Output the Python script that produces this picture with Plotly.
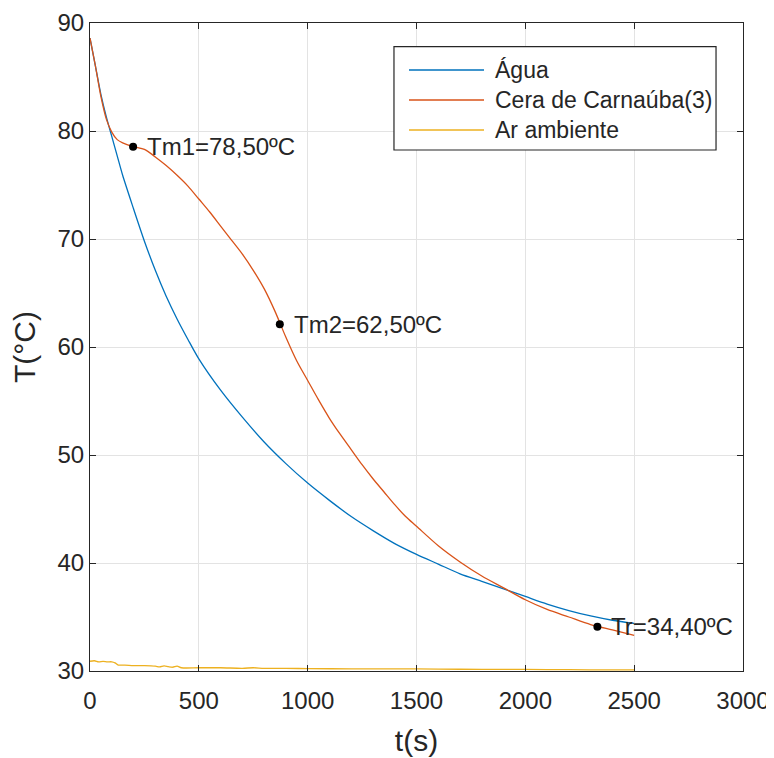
import plotly.graph_objects as go

# ---- data ----
agua_t = [0, 25, 50, 75, 100, 125, 150, 200, 250, 300, 350, 400, 450, 500, 600, 700, 800, 900,
          1000, 1100, 1200, 1300, 1400, 1500, 1600, 1700, 1800, 1900, 2000, 2100, 2200, 2300, 2400, 2500]
agua_T = [88.6, 86.0, 83.4, 81.3, 79.5, 77.7, 75.9, 72.8, 69.8, 67.1, 64.7, 62.6, 60.7, 58.9, 56.0, 53.5, 51.2, 49.2,
          47.4, 45.8, 44.3, 43.0, 41.8, 40.8, 39.9, 39.0, 38.3, 37.6, 36.9, 36.2, 35.6, 35.1, 34.7, 34.4]

cera_t = [0, 25, 50, 75, 100, 125, 150, 200, 250, 300, 350, 400, 450, 500, 550, 600, 650, 700, 750, 800, 850,
          900, 950, 1000, 1050, 1100, 1150, 1200, 1250, 1300, 1350, 1400, 1450, 1500, 1600, 1700, 1800, 1900,
          2000, 2100, 2200, 2300, 2400, 2500]
cera_T = [88.6, 86.0, 83.2, 81.1, 79.9, 79.2, 78.9, 78.55, 78.3, 77.6, 76.8, 75.9, 74.9, 73.7, 72.5, 71.2, 69.9,
          68.6, 67.1, 65.4, 63.3, 60.9, 58.7, 56.9, 55.1, 53.4, 51.9, 50.5, 49.1, 47.8, 46.6, 45.4, 44.3, 43.4,
          41.6, 40.1, 38.8, 37.7, 36.6, 35.7, 35.0, 34.3, 33.8, 33.3]

ar_t = [0, 20, 40, 60, 80, 100, 115, 130, 160, 200, 250, 300, 320, 340, 360, 380, 400, 420, 500, 600, 700,
        750, 800, 900, 1000, 1200, 1400, 1600, 1800, 2000, 2200, 2400, 2500]
ar_T = [30.9, 30.95, 30.85, 30.9, 30.85, 30.85, 30.75, 30.55, 30.55, 30.5, 30.5, 30.45, 30.38, 30.48, 30.4,
        30.35, 30.45, 30.3, 30.3, 30.3, 30.25, 30.3, 30.25, 30.25, 30.22, 30.2, 30.2, 30.18, 30.15, 30.15,
        30.12, 30.1, 30.1]

mark_t = [198, 872, 2331]
mark_T = [78.55, 62.1, 34.1]
mark_labels = ["Tm1=78,50ºC", "Tm2=62,50ºC", "Tr=34,40ºC"]

series_names = ["Água", "Cera de Carnaúba(3)", "Ar ambiente"]
series_colors = ["#0072BD", "#D95319", "#EDB120"]

x_ticks = [0, 500, 1000, 1500, 2000, 2500, 3000]
y_ticks = [30, 40, 50, 60, 70, 80, 90]

FONT = "Liberation Sans, Arial, sans-serif"
TXT = "#262626"

fig = go.Figure()
for (tt, TT), name, col in zip([(agua_t, agua_T), (cera_t, cera_T), (ar_t, ar_T)], series_names, series_colors):
    fig.add_trace(go.Scatter(x=tt, y=TT, mode="lines", name=name, showlegend=False,
                             line=dict(color=col, width=1.3, shape="spline", smoothing=0.8)))

fig.add_trace(go.Scatter(x=mark_t, y=mark_T, mode="markers", showlegend=False,
                         marker=dict(color="black", size=8)))
for tx, ty, lab in zip(mark_t, mark_T, mark_labels):
    fig.add_annotation(x=tx, y=ty, text=lab, showarrow=False, xanchor="left", yanchor="middle",
                       xshift=12, font=dict(family=FONT, size=24, color=TXT))

# custom legend (MATLAB-style, long line samples)
lx0, lx1, ly0, ly1 = 0.4655, 0.9587, 0.804, 0.9634
fig.add_shape(type="rect", xref="paper", yref="paper", x0=lx0, x1=lx1, y0=ly0, y1=ly1,
              line=dict(color="#262626", width=1.2), fillcolor="white", layer="above")
row_y = [0.9275, 0.8812, 0.8349]
for ry, name, col in zip(row_y, series_names, series_colors):
    fig.add_shape(type="line", xref="paper", yref="paper", x0=0.4885, x1=0.6034, y0=ry, y1=ry,
                  line=dict(color=col, width=1.3), layer="above")
    fig.add_annotation(xref="paper", yref="paper", x=0.6172, y=ry, text=name, showarrow=False,
                       xanchor="left", yanchor="middle", font=dict(family=FONT, size=23, color=TXT))

axis_common = dict(showgrid=True, gridcolor="#e3e3e3", gridwidth=1, zeroline=False, automargin=False,
                   showline=True, linecolor="#262626", linewidth=1.2, mirror="allticks",
                   ticks="inside", ticklen=6, tickcolor="#262626", tickwidth=1,
                   tickfont=dict(family=FONT, size=24, color=TXT))

# page body has an 8px default margin, so the figure is sized/offset to compensate
fig.update_layout(
    width=766, height=750,
    margin=dict(l=82, r=31, t=15, b=87),
    paper_bgcolor="white", plot_bgcolor="white",
    font=dict(family=FONT, color=TXT),
    xaxis=dict(range=[0, 3000], tickvals=x_ticks, ticktext=[str(v) for v in x_ticks],
               ticklabelstandoff=8,
               title=dict(text="t(s)", font=dict(family=FONT, size=30, color=TXT), standoff=17),
               **axis_common),
    yaxis=dict(range=[30, 90], tickvals=y_ticks, ticktext=[str(v) for v in y_ticks],
               title=dict(text="T(°C)", font=dict(family=FONT, size=30, color=TXT), standoff=18),
               **axis_common),
)

fig.write_html("out.html")
